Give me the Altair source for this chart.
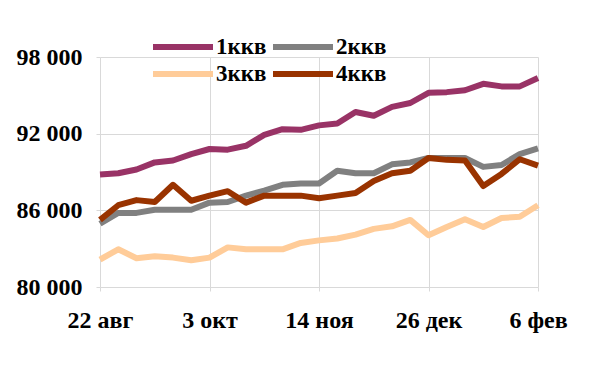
import altair as alt
import pandas as pd

dates = ["2011-08-22", "2011-08-29", "2011-09-05", "2011-09-12", "2011-09-19",
         "2011-09-26", "2011-10-03", "2011-10-10", "2011-10-17", "2011-10-24",
         "2011-10-31", "2011-11-07", "2011-11-14", "2011-11-21", "2011-11-28",
         "2011-12-05", "2011-12-12", "2011-12-19", "2011-12-26", "2012-01-02",
         "2012-01-09", "2012-01-16", "2012-01-23", "2012-01-30", "2012-02-06"]

series_names = ["1ккв", "2ккв", "3ккв", "4ккв"]

s1 = [88800, 88900, 89200, 89750, 89900, 90400, 90800, 90750, 91050, 91900,
      92350, 92300, 92650, 92800, 93700, 93400, 94100, 94400, 95200, 95250,
      95400, 95900, 95700, 95700, 96350]
s2 = [84950, 85800, 85800, 86050, 86050, 86050, 86600, 86650, 87150, 87550,
      88000, 88100, 88100, 89100, 88900, 88900, 89600, 89750, 90100, 90100,
      90100, 89400, 89550, 90400, 90850]
s3 = [82150, 82950, 82250, 82400, 82300, 82100, 82300, 83100, 82950, 82950,
      82950, 83450, 83650, 83800, 84100, 84550, 84750, 85250, 84050, 84700,
      85300, 84700, 85400, 85500, 86400]
s4 = [85250, 86400, 86800, 86650, 88000, 86750, 87150, 87500, 86600, 87150,
      87150, 87150, 86950, 87150, 87350, 88300, 88900, 89100, 90100, 89950,
      89900, 87900, 88850, 90000, 89500]

y_ticks = [80000, 86000, 92000, 98000]
x_tick_dates = [(2011, 8, 22), (2011, 10, 3), (2011, 11, 14), (2011, 12, 26), (2012, 2, 6)]
month_names = ["янв", "фев", "мар", "апр", "май", "июн", "июл", "авг", "сен", "окт", "ноя", "дек"]
colors = ["#993366", "#808080", "#FFCC99", "#993300"]

rows = []
for name, vals in zip(series_names, [s1, s2, s3, s4]):
    for d, v in zip(dates, vals):
        rows.append({"date": d, "value": v, "series": name})
df = pd.DataFrame(rows)

font = "Times New Roman, Liberation Serif, DejaVu Serif, serif"
month_js = "[" + ",".join("'" + m + "'" for m in month_names) + "]"

chart = alt.Chart(df).mark_line(strokeWidth=6, strokeJoin="round").encode(
    x=alt.X("date:T",
            scale=alt.Scale(type="utc", domain=[alt.DateTime(year=2011, month=8, date=22, utc=True),
                                                alt.DateTime(year=2012, month=2, date=6, utc=True)]),
            axis=alt.Axis(values=[alt.DateTime(year=y, month=m, date=d, utc=True) for y, m, d in x_tick_dates],
                          labelExpr="utcdate(datum.value) + ' ' + " + month_js + "[utcmonth(datum.value)]",
                          title=None, domain=False, tickSize=4, tickColor="#d9d9d9",
                          gridColor="#d9d9d9", labelPadding=17, labelFont=font,
                          labelFontSize=24, labelFontWeight="bold", labelColor="black",
                          labelAngle=0, labelFlush=False, labelAlign="center")),
    y=alt.Y("value:Q",
            scale=alt.Scale(domain=[80000, 98000], zero=False, nice=False),
            axis=alt.Axis(values=y_ticks,
                          labelExpr="replace(format(datum.value, ','), ',', ' ')",
                          title=None, domain=False, tickSize=4, tickColor="#d9d9d9",
                          gridColor="#d9d9d9", labelPadding=14, labelFont=font,
                          labelFontSize=24, labelFontWeight="bold", labelColor="black",
                          labelFlush=False)),
    color=alt.Color("series:N",
                    scale=alt.Scale(domain=series_names, range=colors),
                    legend=alt.Legend(title=None, orient="none", legendX=70, legendY=-23,
                                      columns=2, direction="horizontal",
                                      symbolType="M-3,0H3", symbolSize=400,
                                      symbolStrokeWidth=6, labelOffset=20,
                                      labelFont=font, labelFontSize=23, labelFontWeight="bold",
                                      labelColor="black", columnPadding=-6, rowPadding=2,
                                      padding=0, symbolOpacity=1)),
).properties(
    width=438, height=230,
    autosize=alt.AutoSizeParams(type="none"),
    padding={"left": 92, "top": 49, "right": 40, "bottom": 50},
).configure_view(stroke=None)

chart.save("out.html", embed_options={"renderer": "svg", "actions": False})
